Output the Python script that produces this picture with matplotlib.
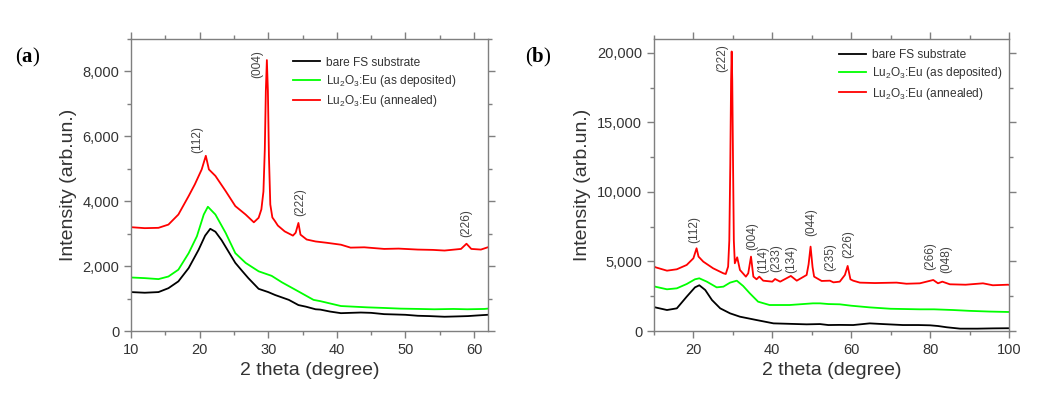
import matplotlib
matplotlib.use("Agg")
import matplotlib.pyplot as plt
from matplotlib.ticker import MultipleLocator, FuncFormatter

plt.rcParams['font.family'] = ['Liberation Sans', 'DejaVu Sans']
plt.rcParams['mathtext.fontset'] = 'custom'
plt.rcParams['mathtext.bf'] = 'Liberation Serif:bold'
plt.rcParams['mathtext.default'] = 'regular'

# ---------------- panel (a) data ----------------
a_bare_x = [10, 12, 14, 15.45, 16.9, 18.4, 19.84, 20.8, 21.55, 22.3, 23.2, 24.2, 25.2, 26.2,
            27.1, 28.6, 30, 31, 33, 34.4, 35.5, 36.9, 37.6, 39, 40.6, 42, 43.5, 45, 46.9, 48.5,
            50, 51.8, 53.5, 55.7, 57.5, 59.1, 60.5, 62]
a_bare_y = [1200, 1180, 1200, 1320, 1530, 1940, 2500, 2940, 3150, 3060, 2800, 2450, 2100, 1850,
            1630, 1300, 1200, 1110, 960, 800, 750, 670, 660, 600, 550, 560, 570, 560, 520, 510,
            500, 470, 460, 440, 450, 460, 480, 500]

a_dep_x = [10, 12, 14, 15.45, 16.9, 18.4, 19.6, 20.6, 21.2, 22.3, 23.8, 25.2, 26.7, 28.6,
           30.5, 32, 34.4, 36.6, 37.6, 40.6, 42.5, 44.4, 47, 49.3, 52, 54.2, 57, 59, 61.5, 62]
a_dep_y = [1650, 1630, 1600, 1680, 1890, 2400, 2920, 3590, 3830, 3590, 3020, 2400, 2100, 1840,
           1700, 1500, 1220, 960, 920, 770, 750, 730, 710, 690, 680, 670, 680, 670, 680, 690]

a_ann_x = [10, 12, 14, 15.45, 16.9, 18.4, 19.3, 20.3, 20.9, 21.35, 22.3, 23.8, 25.2, 26.7,
           27.9, 28.6, 29.0, 29.3, 29.5, 29.65, 29.8, 29.95, 30.1, 30.3, 30.6, 31.0, 31.4,
           32.4, 33.6, 34.0, 34.4, 34.7, 35.6, 36.9, 38.5, 40.6, 42, 44, 46.9, 49, 51.8, 54,
           55.7, 58.1, 58.9, 59.6, 61, 62]
a_ann_y = [3200, 3170, 3180, 3280, 3590, 4160, 4520, 4980, 5400, 4980, 4780, 4310, 3850, 3590,
           3350, 3490, 3750, 4300, 5600, 7400, 8350, 7400, 5400, 3900, 3500, 3380, 3250,
           3070, 2940, 3030, 3330, 2970, 2820, 2760, 2720, 2660, 2570, 2580, 2530, 2540, 2510, 2500,
           2480, 2530, 2690, 2530, 2510, 2580]

a_labels = ['(112)', '(004)', '(222)', '(226)']
a_label_x = [19.6, 28.45, 34.7, 58.8]
a_label_y = [5500, 7800, 3550, 2900]

# ---------------- panel (b) data ----------------
b_bare_x = [10, 10.3, 13.3, 15.8, 18.3, 20.4, 21.5, 23, 24.7, 26.8, 29.3, 31.8, 36, 40.3, 44,
            48.7, 52.1, 54.2, 57, 60.5, 64.7, 68, 73.1, 77, 80, 82, 84.2, 87.6, 92, 96, 99.7, 100]
b_bare_y = [1750, 1700, 1510, 1630, 2470, 3140, 3290, 2950, 2230, 1630, 1270, 1030, 790, 550, 520,
            480, 500, 430, 440, 430, 550, 500, 430, 430, 410, 360, 270, 170, 170, 190, 200, 200]

b_dep_x = [10, 10.3, 13.3, 15.8, 18.3, 20.4, 21.5, 23.4, 25.9, 27.6, 29.3, 31, 32.6, 34.3,
           36.4, 39.3, 44.4, 50.3, 52.1, 54.2, 57.1, 60, 64.7, 70, 77.4, 81, 85.8, 90, 95, 99.7, 100]
b_dep_y = [3240, 3190, 3000, 3070, 3380, 3720, 3790, 3550, 3140, 3190, 3480, 3620, 3240, 2710,
           2110, 1870, 1870, 1990, 1990, 1940, 1920, 1820, 1700, 1600, 1560, 1560, 1510, 1450,
           1400, 1370, 1370]

b_ann_x = [10, 10.3, 13.3, 15.8, 18.3, 20, 20.8, 21.3, 22.5, 25, 27.6, 28.2, 28.8, 29.1,
           29.35, 29.55, 29.7, 29.85, 30.05, 30.25, 30.5, 31.1, 31.8, 33.3, 33.9, 34.6, 35.2,
           36, 36.7, 37.7, 40, 40.7, 42, 44.7, 46.2, 48.7, 49.2, 49.7, 50.2, 50.6, 52.5, 54.6,
           55.5, 57.1, 58.4, 59.1, 59.8, 60.5, 62.2, 66, 71.5, 74, 77.4, 80.8, 82, 83.1, 85,
           89, 93.4, 95.9, 99.7, 100]
b_ann_y = [4680, 4590, 4340, 4440, 4750, 5230, 5950, 5350, 4990, 4510, 4150, 4100, 4630, 6500,
           12000, 18000, 20100, 18000, 12000, 6500, 4870, 5300, 4390, 3910, 4150, 5350, 3910,
           3720, 3910, 3620, 3550, 3740, 3550, 3960, 3620, 4030, 4800, 6070, 4600, 3910, 3600, 3620,
           3500, 3550, 4030, 4680, 3720, 3620, 3480, 3450, 3480, 3400, 3430, 3670, 3430, 3550, 3360,
           3330, 3430, 3290, 3330, 3320]

b_labels = ['(112)', '(222)', '(004)', '(114)', '(233)', '(134)', '(044)', '(235)', '(226)',
            '(266)', '(048)']
b_label_x = [20.25, 27.4, 35.0, 37.8, 41.1, 44.9, 49.8, 54.6, 59.3, 80.1, 84.2]
b_label_y = [6360, 18600, 5830, 4150, 4270, 4200, 6840, 4350, 5230, 4400, 4150]

series_names = ['bare FS substrate', 'Lu$_2$O$_3$:Eu (as deposited)', 'Lu$_2$O$_3$:Eu (annealed)']
series_colors = ['#000000', '#00ff00', '#ff0000']

SPINE = '#7f7f7f'
TXT = '#333333'

fig = plt.figure(figsize=(10.4, 3.97), dpi=100)
ax_a = fig.add_axes([0.126, 0.1662, 0.343, 0.7356])
ax_b = fig.add_axes([0.6288, 0.1662, 0.3414, 0.7356])


def style_axes(ax, xmaj, xmin, ymaj, ymin):
    for s in ax.spines.values():
        s.set_color(SPINE)
        s.set_linewidth(1.0)
    ax.xaxis.set_major_locator(MultipleLocator(xmaj))
    ax.xaxis.set_minor_locator(MultipleLocator(xmin))
    ax.yaxis.set_major_locator(MultipleLocator(ymaj))
    ax.yaxis.set_minor_locator(MultipleLocator(ymin))
    ax.yaxis.set_major_formatter(FuncFormatter(lambda v, p: f"{int(v):,}"))
    ax.tick_params(which='both', direction='out', top=True, right=True,
                   color=SPINE, labelcolor=TXT, labelsize=10.5)
    ax.tick_params(which='major', length=5, width=1)
    ax.tick_params(which='minor', length=3, width=1)
    ax.set_xlabel('2 theta (degree)', fontsize=14, color=TXT, labelpad=4)
    ax.set_ylabel('Intensity (arb.un.)', fontsize=14, color=TXT, labelpad=4)


def draw(ax, xs, ys, labels, lx, ly, legend_anchor):
    for x, y, name, c in zip(xs, ys, series_names, series_colors):
        ax.plot(x, y, color=c, lw=1.3, label=name)
    for t, x, y in zip(labels, lx, ly):
        ax.text(x, y, t, rotation=90, ha='center', va='bottom', fontsize=8.6, color='#444444')
    leg = ax.legend(loc='upper left', bbox_to_anchor=legend_anchor, frameon=False,
                    fontsize=8.6, handlelength=2.3, handletextpad=0.45, labelspacing=0.35,
                    borderpad=0, borderaxespad=0)
    for t in leg.get_texts():
        t.set_color(TXT)


draw(ax_a, [a_bare_x, a_dep_x, a_ann_x], [a_bare_y, a_dep_y, a_ann_y],
     a_labels, a_label_x, a_label_y, (0.454, 0.94))
ax_a.set_xlim(10, 62)
ax_a.set_ylim(0, 9000)
style_axes(ax_a, 10, 5, 2000, 1000)

draw(ax_b, [b_bare_x, b_dep_x, b_ann_x], [b_bare_y, b_dep_y, b_ann_y],
     b_labels, b_label_x, b_label_y, (0.521, 0.965))
ax_b.set_xlim(10, 100)
ax_b.set_ylim(0, 21000)
style_axes(ax_b, 20, 10, 5000, 2500)

fig.text(0.014, 0.855, '($\\mathbf{a}$)', fontsize=15, family='Liberation Serif', va='center')
fig.text(0.505, 0.855, '($\\mathbf{b}$)', fontsize=15, family='Liberation Serif', va='center')

fig.savefig('out.png', dpi=100)
